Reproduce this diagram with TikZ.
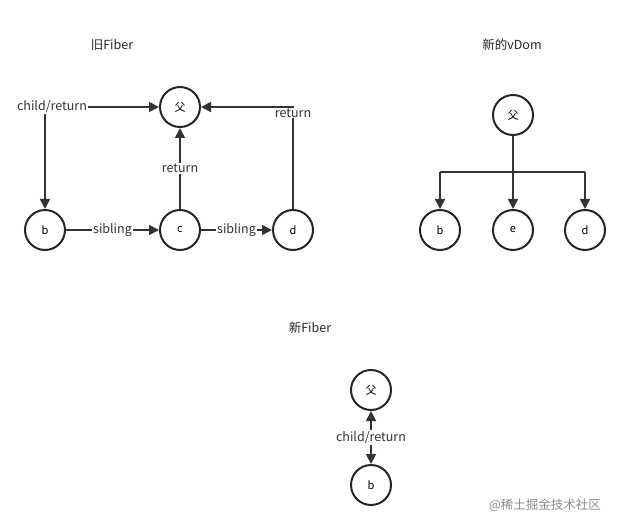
\documentclass[tikz,border=0pt]{standalone}
\usepackage{fontspec}
\setmainfont{Noto Sans CJK SC}
\usetikzlibrary{arrows.meta}
\begin{document}
\begin{tikzpicture}[x=1pt,y=-1pt,
  nd/.style={circle,draw=black!85,line width=2pt,minimum size=40pt,inner sep=0pt,font=\fontsize{11}{13}\selectfont},
  ed/.style={draw=black!80,line width=1.7pt,-{Triangle[length=10pt,width=10pt]}},
  lb/.style={fill=white,inner sep=1pt,font=\fontsize{12.5}{14}\selectfont,text=black!80},
  tt/.style={font=\fontsize{12.5}{14}\selectfont,text=black!85}]
\useasboundingbox (0,0) rectangle (631,529);
\node[tt] (t1) at (112,45) {旧Fiber};
\node[tt] (t2) at (512,45) {新的vDom};
\node[tt] (t3) at (310,328) {新Fiber};
\node[nd] (p) at (180,107) {父};
\node[nd] (b) at (45,230) {b};
\node[nd] (c) at (180,230) {c};
\node[nd] (d) at (293,230) {d};
\coordinate (k1) at (45,107);
\coordinate (k2) at (293,107);
\draw[ed] (k1) -- (b);
\draw[ed] (k1) -- (p);
\node[lb] (l1) at (52,107) {child/return};
\draw[ed] (d) -- (k2) -- (p);
\node[lb] (l2) at (293,113) {return};
\draw[ed] (c) -- node[lb] (l3) {return} (p);
\draw[ed] (b) -- node[lb] (l4) {sibling} (c);
\draw[ed] (c) -- node[lb] (l5) {sibling} (d);
\node[nd] (q) at (513,115) {父};
\node[nd] (qb) at (440,230) {b};
\node[nd] (qe) at (513,230) {e};
\node[nd] (qd) at (585,230) {d};
\coordinate (j) at (513,172);
\coordinate (jb) at (440,172);
\coordinate (jd) at (585,172);
\draw[draw=black!80,line width=1.7pt] (q) -- (j) (jb) -- (jd);
\draw[ed] (jb) -- (qb);
\draw[ed] (j) -- (qe);
\draw[ed] (jd) -- (qd);
\node[nd] (r) at (371,390) {父};
\node[nd] (rb) at (371,485) {b};
\draw[ed,{Triangle[length=10pt,width=10pt]}-{Triangle[length=10pt,width=10pt]}] (r) -- node[lb] (l6) {child/return} (rb);
\node[font=\fontsize{12.5}{14}\selectfont,text=black!45] (w) at (545,505) {@稀土掘金技术社区};
\end{tikzpicture}
\end{document}
